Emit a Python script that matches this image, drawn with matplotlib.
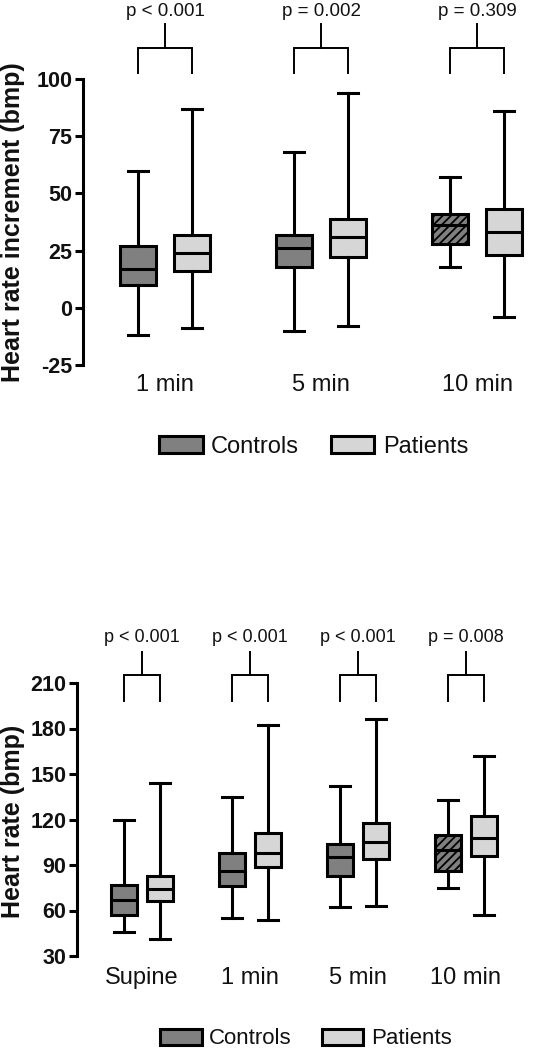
import matplotlib
matplotlib.use("Agg")
import matplotlib.pyplot as plt
from matplotlib.patches import Patch

plt.rcParams['font.family'] = ['Liberation Sans', 'DejaVu Sans']
plt.rcParams['hatch.linewidth'] = 1.3

# ---------------- data ----------------
top_groups = ['1 min', '5 min', '10 min']
top_ctrl_whislo = [-12, -10, 18]
top_ctrl_q1 = [10, 18, 28]
top_ctrl_med = [17, 26, 36]
top_ctrl_q3 = [27, 32, 41]
top_ctrl_whishi = [60, 68, 57]
top_pat_whislo = [-9, -8, -4]
top_pat_q1 = [16, 22, 23]
top_pat_med = [24, 31, 33]
top_pat_q3 = [32, 39, 43]
top_pat_whishi = [87, 94, 86]
top_pvals = ['p < 0.001', 'p = 0.002', 'p = 0.309']
top_yticks = [-25, 0, 25, 50, 75, 100]

bot_groups = ['Supine', '1 min', '5 min', '10 min']
bot_ctrl_whislo = [46, 55, 62, 75]
bot_ctrl_q1 = [57, 76, 83, 86]
bot_ctrl_med = [67, 86, 95, 100]
bot_ctrl_q3 = [77, 98, 104, 110]
bot_ctrl_whishi = [120, 135, 142, 133]
bot_pat_whislo = [41, 54, 63, 57]
bot_pat_q1 = [66, 89, 94, 96]
bot_pat_med = [74, 98, 105, 108]
bot_pat_q3 = [83, 111, 118, 122]
bot_pat_whishi = [144, 182, 186, 162]
bot_pvals = ['p < 0.001', 'p < 0.001', 'p < 0.001', 'p = 0.008']
bot_yticks = [30, 60, 90, 120, 150, 180, 210]

series_names = ['Controls', 'Patients']

# ---------------- style ----------------
C_CTRL = '#808080'
C_PAT = '#d6d6d6'
LW = 2.2
TXT = '#111111'

W, H = 555, 1050
fig = plt.figure(figsize=(W / 100, H / 100), dpi=100)


def px_axes(left, right, top, bottom):
    return fig.add_axes([left / W, 1 - bottom / H, (right - left) / W, (bottom - top) / H])


def stats(lo, q1, med, q3, hi):
    return [dict(whislo=a, q1=b, med=c, q3=d, whishi=e, fliers=[])
            for a, b, c, d, e in zip(lo, q1, med, q3, hi)]


def draw_panel(ax, groups, ctrl, pat, pvals, yticks, off, bw, cw,
               leg_lo, leg_hi, stem_hi, ptext_y, xlabel_pad, hatch_idx, pfs):
    n = len(groups)
    centers = list(range(1, n + 1))
    for st, sign, col in [(ctrl, -1, C_CTRL), (pat, 1, C_PAT)]:
        pos = [c + sign * off for c in centers]
        res = ax.bxp(st, positions=pos, widths=bw, capwidths=cw, patch_artist=True,
                     showfliers=False, manage_ticks=False,
                     boxprops=dict(facecolor=col, edgecolor='black', linewidth=LW),
                     medianprops=dict(color='black', linewidth=LW),
                     whiskerprops=dict(color='black', linewidth=LW),
                     capprops=dict(color='black', linewidth=LW))
        if sign == -1:
            for i in hatch_idx:
                res['boxes'][i].set_hatch('////')
    # brackets and p-values
    for c, p in zip(centers, pvals):
        x0, x1 = c - off, c + off
        ax.plot([x0, x0, x1, x1], [leg_lo, leg_hi, leg_hi, leg_lo], color='black',
                lw=1.4, clip_on=False, solid_joinstyle='miter')
        ax.plot([c, c], [leg_hi, stem_hi], color='black', lw=1.4, clip_on=False)
        ax.text(c, ptext_y, p, ha='center', va='center', fontsize=pfs, color=TXT,
                clip_on=False)
    ax.set_ylim(yticks[0], yticks[-1])
    ax.set_yticks(yticks)
    ax.set_yticklabels([str(t) for t in yticks], fontsize=15.5, fontweight='bold', color=TXT)
    ax.set_xticks(centers)
    ax.set_xticklabels(groups, fontsize=17, color=TXT)
    ax.tick_params(axis='x', length=0, pad=xlabel_pad)
    ax.tick_params(axis='y', length=6, width=LW, pad=1.5, direction='out')
    for s in ['top', 'right', 'bottom']:
        ax.spines[s].set_visible(False)
    ax.spines['left'].set_linewidth(LW)
    ax.patch.set_alpha(0)


# top panel: axis x=83, y(100)=79, y(-25)=365 ; group spacing 156 px, first group at 165
ax1 = px_axes(83, 555, 79, 365)
ax1.set_xlim(1 - 82 / 156, 1 + 390 / 156)
draw_panel(ax1, top_groups,
           stats(top_ctrl_whislo, top_ctrl_q1, top_ctrl_med, top_ctrl_q3, top_ctrl_whishi),
           stats(top_pat_whislo, top_pat_q1, top_pat_med, top_pat_q3, top_pat_whishi),
           top_pvals, top_yticks, off=27 / 156, bw=36 / 156, cw=20 / 156,
           leg_lo=102.6, leg_hi=113.6, stem_hi=124.1, ptext_y=129.5,
           xlabel_pad=6.5, hatch_idx=[2], pfs=13.5)
ax1.set_xlim(1 - 82 / 156, 1 + 390 / 156)

# bottom panel: axis x=77, y(210)=683, y(30)=956 ; spacing 108 px, first group at 142
ax2 = px_axes(77, 555, 683, 956)
ax2.set_xlim(1 - 65 / 108, 1 + 413 / 108)
draw_panel(ax2, bot_groups,
           stats(bot_ctrl_whislo, bot_ctrl_q1, bot_ctrl_med, bot_ctrl_q3, bot_ctrl_whishi),
           stats(bot_pat_whislo, bot_pat_q1, bot_pat_med, bot_pat_q3, bot_pat_whishi),
           bot_pvals, bot_yticks, off=18 / 108, bw=26.5 / 108, cw=20 / 108,
           leg_lo=198.1, leg_hi=215.3, stem_hi=230.4, ptext_y=240.3,
           xlabel_pad=8, hatch_idx=[3], pfs=13)
ax2.set_xlim(1 - 65 / 108, 1 + 413 / 108)

# y labels
fig.text(13 / W, 1 - 222 / H, 'Heart rate increment (bmp)', rotation=90, ha='center',
         va='center', fontsize=18, fontweight='bold', color=TXT)
fig.text(13 / W, 1 - 821 / H, 'Heart rate (bmp)', rotation=90, ha='center',
         va='center', fontsize=18, fontweight='bold', color=TXT)

# legends
handles = [Patch(facecolor=C_CTRL, edgecolor='black', linewidth=LW, label=series_names[0]),
           Patch(facecolor=C_PAT, edgecolor='black', linewidth=LW, label=series_names[1])]
for cx, cy, fs in [(313.5, 447, 17), (306, 1039, 16)]:
    fig.legend(handles=handles, loc='center', bbox_to_anchor=(cx / W, 1 - cy / H), ncol=2,
               frameon=False, fontsize=fs, handlelength=1.85, handleheight=0.75,
               handletextpad=0.35, columnspacing=1.35, borderpad=0, labelcolor=TXT)

fig.savefig('out.png', dpi=100)
